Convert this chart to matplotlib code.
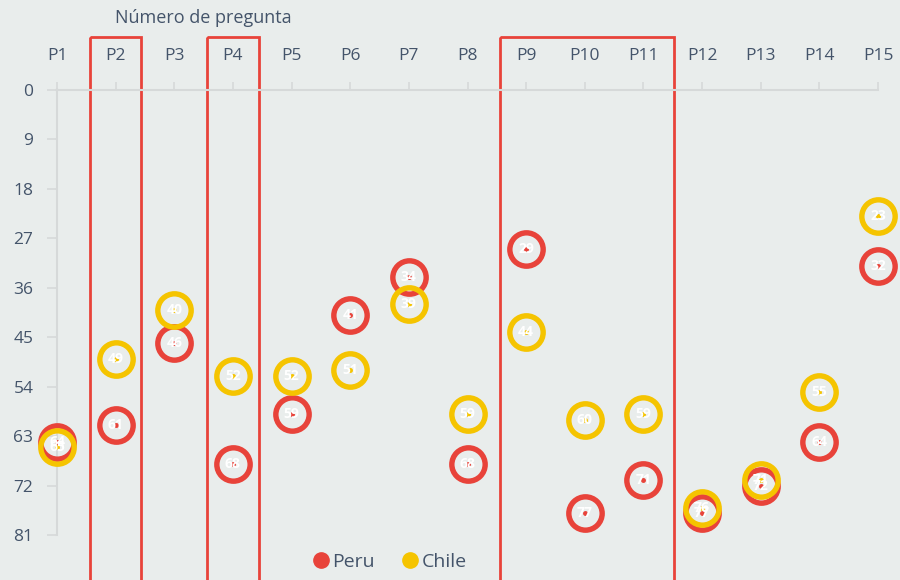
import matplotlib
matplotlib.use("Agg")
import matplotlib.pyplot as plt
from matplotlib.patches import Rectangle
from matplotlib.lines import Line2D

questions = ["P1", "P2", "P3", "P4", "P5", "P6", "P7", "P8", "P9", "P10", "P11", "P12", "P13", "P14", "P15"]
peru = [64, 61, 46, 68, 59, 41, 34, 68, 29, 77, 71, 77, 72, 64, 32]
chile = [65, 49, 40, 52, 52, 51, 39, 59, 44, 60, 59, 76, 71, 55, 23]
y_ticks = [0, 9, 18, 27, 36, 45, 54, 63, 72, 81]
highlight_groups = [(2, 2), (4, 4), (9, 11)]

BG = "#E9EDEC"
TXT = "#44546A"
RED = "#E8433A"
YEL = "#F5C400"
AX = "#D6D9D9"

plt.rcParams['font.family'] = ['Open Sans', 'DejaVu Sans']

fig = plt.figure(figsize=(9, 5.8), dpi=100, facecolor=BG)
ax = fig.add_axes([57/900, (580-535)/580, (878-57)/900, (535-90)/580])
ax.set_facecolor(BG)

x = list(range(1, len(questions) + 1))
ax.set_xlim(1, 15)
ax.set_ylim(81, 0)

for vals, col in [(peru, RED), (chile, YEL)]:
    ax.plot(x, vals, linestyle="none", marker="o", markersize=24,
            markerfacecolor="none", markeredgecolor=col, markeredgewidth=3.9,
            clip_on=False, zorder=3)
    ax.plot(x, vals, linestyle="none", marker="o", markersize=2.5,
            color=col, clip_on=False, zorder=4)
    for xi, v in zip(x, vals):
        ax.text(xi, v, str(v), color="white", fontsize=10, fontweight="bold",
                ha="center", va="center", zorder=5, clip_on=False)

ax.xaxis.tick_top()
ax.set_xticks(x)
ax.set_xticklabels(questions)
ax.set_yticks(y_ticks)
ax.tick_params(axis="x", colors=AX, labelcolor=TXT, labelsize=12.5, length=6, width=1.2, pad=13)
ax.tick_params(axis="y", colors=AX, labelcolor=TXT, labelsize=12.5, length=7, width=1.2, pad=10)
for s in ["right", "bottom"]:
    ax.spines[s].set_visible(False)
for s in ["left", "top"]:
    ax.spines[s].set_color(AX)
    ax.spines[s].set_linewidth(1.5)

# highlight boxes
for a, b in highlight_groups:
    left = a - 0.44
    right = b + 0.52 if b > a else b + 0.44
    rect = Rectangle((left, -9.6), right - left, 110, fill=False,
                     edgecolor=RED, linewidth=2, clip_on=False, zorder=2)
    ax.add_patch(rect)

fig.text(203/900, 1 - 18/580, "Número de pregunta", color=TXT, fontsize=13,
         ha="center", va="center")

handles = [Line2D([], [], linestyle="none", marker="o", markersize=11, color=RED),
           Line2D([], [], linestyle="none", marker="o", markersize=11, color=YEL)]
leg = fig.legend(handles, ["Peru", "Chile"], loc="center", bbox_to_anchor=(389/900, 1 - 562/580),
                 ncol=2, frameon=False, fontsize=14, handletextpad=0.1, columnspacing=1.3,
                 handlelength=1.0)
for t in leg.get_texts():
    t.set_color(TXT)

fig.savefig("out.png", dpi=100, facecolor=BG)
